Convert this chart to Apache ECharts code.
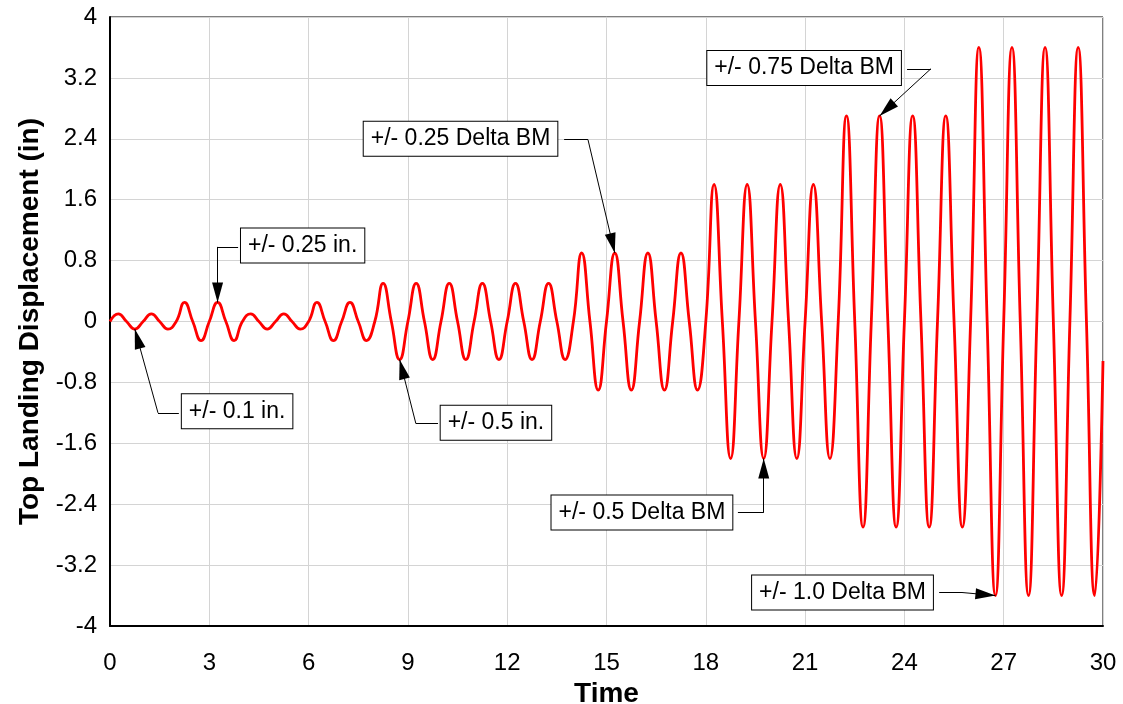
<!DOCTYPE html>
<html>
  <head>
    <meta charset="utf-8" />
    <title>Top Landing Displacement</title>
    <style type="text/css">
      html,
      body {
        margin: 0;
        width: 100%;
        height: 100%;
        background: #fff;
      }
      #main {
        width: 1123px;
        height: 704px;
      }
    </style>
  </head>
  <body>
    <div id="main"></div>

    <script src="https://cdn.jsdelivr.net/npm/echarts@6/dist/echarts.min.js"></script>
    <script type="text/javascript">
      var FONT = "'Liberation Sans', Arial, sans-serif";

      // one value per 1 s cycle (peak at +0.25 s, trough at +0.75 s)
      var cyclePeaks = [
        0.1, 0.1, 0.25, 0.25, 0.1, 0.1, 0.25, 0.25,
        0.5, 0.5, 0.5, 0.5, 0.5, 0.5,
        0.9, 0.9, 0.9, 0.9,
        1.8, 1.8, 1.8, 1.8,
        2.7, 2.7, 2.7, 2.7,
        3.6, 3.6, 3.6, 3.6
      ];
      var cycleTroughs = [
        -0.1, -0.1, -0.25, -0.25, -0.1, -0.1, -0.25, -0.25,
        -0.5, -0.5, -0.5, -0.5, -0.5, -0.5,
        -0.9, -0.9, -0.9, -0.9,
        -1.8, -1.8, -1.8, -1.8,
        -2.7, -2.7, -2.7, -2.7,
        -3.6, -3.6, -3.6, -3.6
      ];
      var lastPoint = [30, -0.52];

      var xTicks = { min: 0, max: 30, interval: 3 };
      var yTicks = { min: -4, max: 4, interval: 0.8 };

      // annotation texts, box centres and leader paths (data units)
      var notes = [
        { text: "+/- 0.1 in.", at: [3.84, -1.18], path: [[2.08, -1.2], [1.45, -1.2], [0.75, -0.1]] },
        { text: "+/- 0.25 in.", at: [5.82, 1.0], path: [[3.87, 0.98], [3.25, 0.98], [3.25, 0.25]] },
        { text: "+/- 0.5 in.", at: [11.66, -1.33], path: [[9.91, -1.34], [9.24, -1.34], [8.75, -0.5]] },
        { text: "+/- 0.25 Delta BM", at: [10.59, 2.4], path: [[13.72, 2.39], [14.44, 2.39], [15.25, 0.9]] },
        { text: "+/- 0.5 Delta BM", at: [16.07, -2.51], path: [[18.97, -2.51], [19.75, -2.51], [19.75, -1.8]] },
        { text: "+/- 0.75 Delta BM", at: [20.97, 3.33], path: [[24.08, 3.32], [24.8, 3.32], [23.25, 2.7]] },
        { text: "+/- 1.0 Delta BM", at: [22.13, -3.56], path: [[25.05, -3.56], [25.74, -3.56], [26.75, -3.6]] }
      ];

      // zero / peak / zero / trough for every cycle
      var wave = [];
      cyclePeaks.forEach(function (p, k) {
        wave.push([k, 0]);
        wave.push([k + 0.25, p]);
        wave.push([k + 0.5, 0]);
        wave.push([k + 0.75, cycleTroughs[k]]);
      });
      wave.push(lastPoint);

      var leaderLines = [];
      notes.forEach(function (n) {
        leaderLines.push([
          { coord: n.path[0], symbol: "none" },
          { coord: n.path[1], symbol: "none" }
        ]);
        // arrow head tip sits on the curve
        leaderLines.push([
          { coord: n.path[1], symbol: "none" },
          { coord: n.path[2], symbol: "triangle", symbolSize: [11, 20], symbolOffset: [0, 10] }
        ]);
      });

      var myChart = echarts.init(document.getElementById("main"));

      var option = {
        backgroundColor: "#fff",
        animation: false,
        textStyle: { fontFamily: FONT },
        grid: {
          left: 110,
          right: 20,
          top: 17,
          bottom: 78,
          outerBoundsMode: "none",
          containLabel: false,
          show: true,
          borderColor: "#000",
          borderWidth: 1
        },
        xAxis: {
          type: "value",
          min: xTicks.min,
          max: xTicks.max,
          interval: xTicks.interval,
          name: "Time",
          nameLocation: "middle",
          nameGap: 44,
          nameTextStyle: { fontFamily: FONT, fontSize: 28, fontWeight: "bold", color: "#000" },
          axisLine: { onZero: false, lineStyle: { color: "#000", width: 2 } },
          axisTick: { show: false },
          axisLabel: { fontFamily: FONT, fontSize: 24, color: "#000", margin: 25 },
          splitLine: { lineStyle: { color: "#d4d4d4", width: 1 } }
        },
        yAxis: {
          type: "value",
          min: yTicks.min,
          max: yTicks.max,
          interval: yTicks.interval,
          name: "Top Landing Displacement (in)",
          nameLocation: "middle",
          nameRotate: 90,
          nameGap: 66,
          nameTextStyle: { fontFamily: FONT, fontSize: 28, fontWeight: "bold", color: "#000" },
          axisLine: { onZero: false, lineStyle: { color: "#000", width: 2 } },
          axisTick: { show: false },
          axisLabel: {
            fontFamily: FONT,
            fontSize: 24,
            color: "#000",
            margin: 13,
            formatter: function (v) {
              return String(+v.toFixed(1));
            }
          },
          splitLine: { lineStyle: { color: "#d4d4d4", width: 1 } }
        },
        series: [
          {
            type: "line",
            data: wave,
            smooth: 0.5,
            showSymbol: false,
            symbol: "none",
            silent: true,
            lineStyle: { color: "#ff0000", width: 2.8 },
            markLine: {
              silent: true,
              animation: false,
              symbol: ["none", "triangle"],
              label: { show: false },
              lineStyle: { color: "#000", width: 1, type: "solid" },
              emphasis: { disabled: true },
              data: leaderLines
            },
            markPoint: {
              silent: true,
              symbol: "rect",
              symbolSize: 1,
              itemStyle: { color: "rgba(0,0,0,0)" },
              label: {
                show: true,
                position: "inside",
                fontFamily: FONT,
                fontSize: 23,
                lineHeight: 25,
                color: "#000",
                backgroundColor: "#fff",
                borderColor: "#000",
                borderWidth: 1,
                padding: [5, 7, 4, 7]
              },
              data: notes.map(function (n) {
                return { coord: n.at, value: n.text, label: { formatter: n.text } };
              })
            }
          }
        ]
      };

      myChart.setOption(option);
    </script>
  </body>
</html>
